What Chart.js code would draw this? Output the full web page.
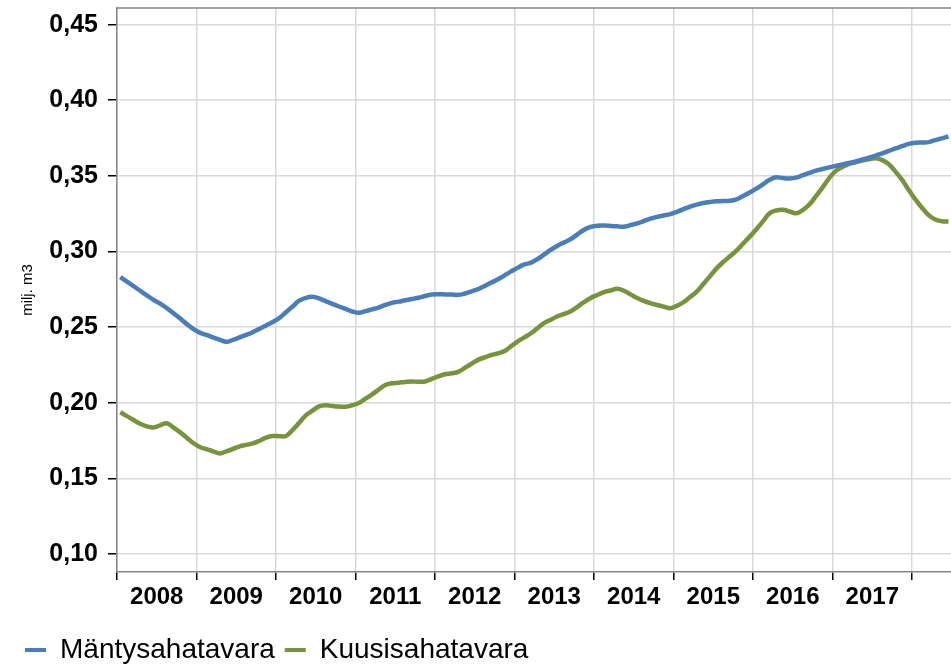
<!DOCTYPE html>
<html>
<head>
<meta charset="utf-8">
<script src="https://cdn.jsdelivr.net/npm/chart.js@4.4.0/dist/chart.umd.min.js"></script>
<style>
html, body { margin: 0; padding: 0; background: #fff; }
</style>
</head>
<body>
<canvas id="myChart" width="951" height="667"></canvas>
<script>
// monthly values, Jan 2008 .. Jun 2018 (milj. m3)
var startYear = 2008;
var mantyValues = [
  0.283, 0.280, 0.277, 0.274, 0.271, 0.268, 0.2655, 0.2626, 0.2592, 0.2558, 0.2521, 0.2488,
  0.2463, 0.2448, 0.2432, 0.2417, 0.2402, 0.2415, 0.2431, 0.2448, 0.2466, 0.2488, 0.2511, 0.2533,
  0.256, 0.2598, 0.2636, 0.2674, 0.2693, 0.2700, 0.2689, 0.2671, 0.2653, 0.2636, 0.262, 0.2603,
  0.2594, 0.2605, 0.2617, 0.2629, 0.2646, 0.266, 0.2668, 0.2677, 0.2685, 0.2694, 0.2705, 0.2715,
  0.2717, 0.2716, 0.2715, 0.2713, 0.2722, 0.2736, 0.2751, 0.2772, 0.2794, 0.2816, 0.2842, 0.2868,
  0.2893, 0.2914, 0.2926, 0.295, 0.2981, 0.3012, 0.3038, 0.306, 0.3082, 0.3113, 0.3144, 0.3162,
  0.3170, 0.3171, 0.3169, 0.3166, 0.3163, 0.3174, 0.3185, 0.3201, 0.3217, 0.3229, 0.3238, 0.3247,
  0.3261, 0.328, 0.3297, 0.331, 0.332, 0.3327, 0.3332, 0.3333, 0.3335, 0.3345, 0.3367, 0.339,
  0.3415, 0.3444, 0.3474, 0.3490, 0.3485, 0.3483, 0.3488, 0.3504, 0.3519, 0.3534, 0.3545, 0.3556,
  0.3566, 0.3575, 0.3585, 0.3595, 0.3608, 0.362, 0.3633, 0.3649, 0.3665, 0.3681, 0.3696, 0.3711,
  0.3719, 0.3721, 0.3723, 0.3736, 0.3748, 0.376
];
var kuusiValues = [
  0.1936, 0.1911, 0.1885, 0.186, 0.1843, 0.1836, 0.185, 0.1864, 0.1836, 0.1805, 0.1769, 0.1733,
  0.1707, 0.1693, 0.1678, 0.1664, 0.1678, 0.1694, 0.1711, 0.1721, 0.173, 0.1748, 0.1768, 0.1779,
  0.1778, 0.178, 0.1819, 0.1867, 0.1916, 0.1947, 0.1975, 0.1983, 0.1978, 0.1974, 0.1973, 0.1983,
  0.1998, 0.2026, 0.2055, 0.2086, 0.2117, 0.2128, 0.2132, 0.2137, 0.2140, 0.2138, 0.214, 0.2157,
  0.2173, 0.2188, 0.2194, 0.2203, 0.223, 0.2257, 0.2283, 0.2299, 0.2315, 0.2326, 0.2341, 0.2374,
  0.2406, 0.2432, 0.2459, 0.2494, 0.2527, 0.2549, 0.2571, 0.2587, 0.2605, 0.2634, 0.2664, 0.2692,
  0.2712, 0.2731, 0.2742, 0.2753, 0.274, 0.2716, 0.2692, 0.2673, 0.2658, 0.2646, 0.2635, 0.2625,
  0.264, 0.2664, 0.2699, 0.2734, 0.2785, 0.2836, 0.2888, 0.293, 0.2968, 0.3006, 0.3052, 0.3098,
  0.3147, 0.3199, 0.3252, 0.3271, 0.3276, 0.3264, 0.3253, 0.3274, 0.331, 0.3366, 0.3424, 0.3485,
  0.3533, 0.3559, 0.3579, 0.359, 0.3601, 0.3609, 0.3616, 0.3604, 0.3577, 0.3528, 0.3473, 0.3407,
  0.3344, 0.3289, 0.3240, 0.3211, 0.32, 0.3198
];
var yearTicks = [2008, 2009, 2010, 2011, 2012, 2013, 2014, 2015, 2016, 2017, 2018];
var yTicks = [0.10, 0.15, 0.20, 0.25, 0.30, 0.35, 0.40, 0.45];

var fontFam = "'Liberation Sans', Arial, sans-serif";

function toPoints(values) {
  return values.map(function(v, i) {
    return { x: startYear + (i + 0.5) / 12, y: v };
  });
}

var topBorder = {
  id: 'topBorder',
  afterDraw: function(chart) {
    var a = chart.chartArea;
    var c = chart.ctx;
    c.save();
    c.strokeStyle = '#868686';
    c.lineWidth = 1.5;
    c.beginPath();
    c.moveTo(a.left, a.top);
    c.lineTo(a.right, a.top);
    c.stroke();
    c.restore();
  }
};

var ctx = document.getElementById('myChart').getContext('2d');
var chart = new Chart(ctx, {
  type: 'line',
  data: {
    datasets: [{
      label: 'Mäntysahatavara',
      data: toPoints(mantyValues),
      borderColor: '#4a7ebb',
      backgroundColor: '#4a7ebb',
      borderWidth: 4.5,
      pointRadius: 0,
      tension: 0.4,
      fill: false
    }, {
      label: 'Kuusisahatavara',
      data: toPoints(kuusiValues),
      borderColor: '#77933c',
      backgroundColor: '#77933c',
      borderWidth: 4.5,
      pointRadius: 0,
      tension: 0.4,
      fill: false
    }]
  },
  options: {
    responsive: false,
    animation: false,
    layout: { padding: { left: 15, right: 0, top: 8, bottom: -7 } },
    scales: {
      x: {
        type: 'linear',
        min: 2008,
        max: 2018.49,
        afterBuildTicks: function(s) {
          s.ticks = yearTicks.map(function(v) { return { value: v }; });
        },
        afterFit: function(s) {
          s.height = 54;
          s.paddingLeft = 0;
          s.paddingRight = 0;
        },
        ticks: {
          callback: function(v) { return v < 2018 ? String(v) : ''; },
          labelOffset: 39.75,
          padding: 3,
          maxRotation: 0,
          autoSkip: false,
          color: '#000',
          font: { family: fontFam, size: 24, weight: 'bold' }
        },
        grid: { color: '#d9d9d9', lineWidth: 1.5, tickLength: 8, tickColor: '#000', tickWidth: 1.5 },
        border: { color: '#868686', width: 1.5 }
      },
      y: {
        min: 0.088,
        max: 0.461,
        afterBuildTicks: function(s) {
          s.ticks = yTicks.map(function(v) { return { value: v }; });
        },
        afterFit: function(s) {
          s.width = 102;
          s.paddingTop = 0;
          s.paddingBottom = 0;
        },
        ticks: {
          callback: function(v) { return v.toFixed(2).replace('.', ','); },
          padding: 10,
          color: '#000',
          font: { family: fontFam, size: 25, weight: 'bold' }
        },
        grid: { color: '#d9d9d9', lineWidth: 1.5, tickLength: 9, tickColor: '#000', tickWidth: 1.5 },
        border: { color: '#868686', width: 1.5 },
        title: {
          display: true,
          text: 'milj. m3',
          color: '#000',
          padding: { top: 4, bottom: 4 },
          font: { family: fontFam, size: 15 }
        }
      }
    },
    plugins: {
      tooltip: { enabled: false },
      legend: {
        position: 'bottom',
        align: 'start',
        labels: {
          boxWidth: 21,
          boxHeight: 4,
          padding: 10,
          color: '#000',
          font: { family: fontFam, size: 28 },
          generateLabels: function(chart) {
            var items = Chart.defaults.plugins.legend.labels.generateLabels(chart);
            items.forEach(function(it) {
              it.lineWidth = 0;
              it.fillStyle = it.strokeStyle;
            });
            return items;
          }
        }
      }
    }
  },
  plugins: [topBorder]
});
</script>
</body>
</html>
